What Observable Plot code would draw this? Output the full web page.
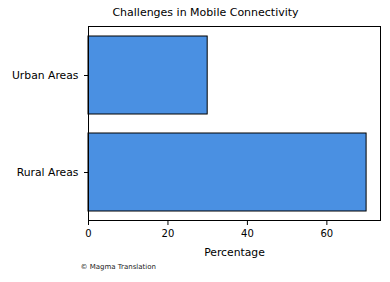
<!DOCTYPE html>
<html><head><meta charset="utf-8">
<script src="https://cdn.jsdelivr.net/npm/d3@7"></script>
<script src="https://cdn.jsdelivr.net/npm/@observablehq/plot@0.6"></script>
<style>body{margin:0;background:#fff}</style>
</head><body><div id="chart"></div>
<script>
const categories = ["Urban Areas", "Rural Areas"];
const values = [30, 70];
const xTicks = [0, 20, 40, 60];
const title = "Challenges in Mobile Connectivity";
const xLabel = "Percentage";
const caption = "© Magma Translation";

const data = categories.map((c, i) => ({category: c, value: values[i]}));
const font = "DejaVu Sans";

const chart = Plot.plot({
  width: 390, height: 282,
  marginTop: 26, marginBottom: 62, marginLeft: 88, marginRight: 10,
  style: {fontFamily: font, fontSize: "10px", color: "#000", background: "#fff"},
  x: {domain: [0, 73.5]},
  y: {type: "band", domain: categories, paddingInner: 0.2, paddingOuter: 0.09},
  marks: [
    Plot.barX(data, {x: "value", y: "category", fill: "#4a90e2", stroke: "#000", strokeWidth: 1}),
    Plot.frame({stroke: "#000", strokeWidth: 1}),
    Plot.axisX(xTicks, {tickSize: 5, tickPadding: 4, label: null, fontSize: 10, stroke: "#000", fill: "#000"}),
    Plot.axisY({tickSize: 4, tickPadding: 6, label: null, fontSize: 10.8, stroke: "#000", fill: "#000"}),
    Plot.text([xLabel], {frameAnchor: "bottom", dy: 35, fontSize: 10.8, fill: "#000"}),
    Plot.text([title], {frameAnchor: "top", dx: -29, dy: -18, fontSize: 11, fill: "#000"}),
    Plot.text([caption], {frameAnchor: "bottom-left", dx: -8, dy: 48, textAnchor: "start", fontSize: 7, fill: "#222"})
  ]
});
document.getElementById("chart").appendChild(chart);
</script></body></html>
